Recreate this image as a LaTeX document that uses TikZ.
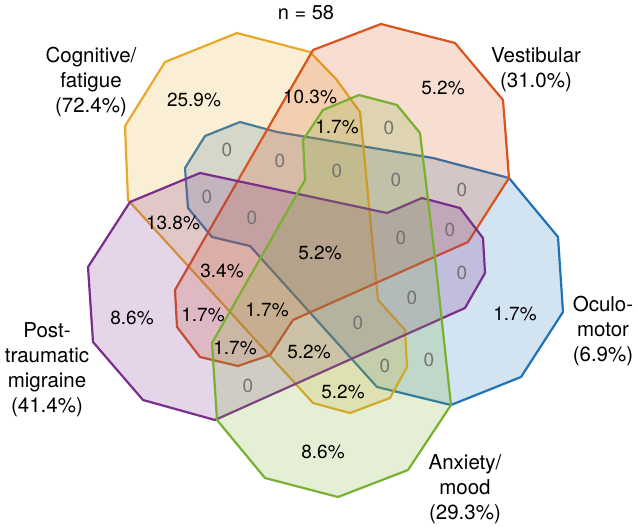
\documentclass[tikz,border=0pt]{standalone}
\usepackage{fontspec}
\setmainfont{TeX Gyre Heros}
\definecolor{cogyel}{HTML}{E8A92A}
\definecolor{vesorg}{HTML}{D9541E}
\definecolor{ocublu}{HTML}{1F72B8}
\definecolor{ptmpur}{HTML}{7B2D8E}
\definecolor{anxgrn}{HTML}{78B030}
\tikzset{
  setarea/.style={line width=2.2pt, line join=round, fill opacity=0.2, draw opacity=1},
  pct/.style={font=\fontsize{19}{21}\selectfont, inner sep=0pt},
  nil/.style={pct, text=black!55},
  setlab/.style={font=\fontsize{20.5}{25}\selectfont, align=center, inner sep=0pt},
}
\begin{document}
\begin{tikzpicture}[x=1pt, y=-1pt]
    \useasboundingbox (0,0) rectangle (638,527);
    % the five sets
    \draw[setarea, draw=ocublu, fill=ocublu] (240,122) -- (277,132) -- (433,158) -- (509,178)
      -- (558,237) -- (563,312) -- (521,377) -- (451,405) -- (377,387) -- (250,246)
      -- (212,237) -- (188,208) -- (185,168) -- (205,136) -- cycle;
    \draw[setarea, draw=cogyel, fill=cogyel] (165,62) -- (237,33) -- (310,52) -- (336,79)
      -- (360,112) -- (378,300) -- (405,330) -- (407,367) -- (390,398) -- (350,413)
      -- (313,403) -- (128,200) -- (125,126) -- cycle;
    \draw[setarea, draw=vesorg, fill=vesorg] (313,50) -- (381,24) -- (455,43) -- (503,100)
      -- (509,178) -- (468,242) -- (293,320) -- (270,355) -- (238,366) -- (200,357)
      -- (177,327) -- (175,290) -- cycle;
    \draw[setarea, draw=ptmpur, fill=ptmpur] (130,202) -- (200,173) -- (387,213) -- (422,198)
      -- (460,208) -- (483,238) -- (485,273) -- (465,308) -- (215,420) -- (143,400)
      -- (93,342) -- (88,267) -- cycle;
    \draw[setarea, draw=anxgrn, fill=anxgrn] (323,110) -- (359,95) -- (397,105) -- (420,133)
      -- (436,267) -- (451,405) -- (408,470) -- (338,497) -- (265,478) -- (217,420)
      -- (212,343) -- (305,180) -- (303,140) -- cycle;
    % titles
    \node[setlab, font=\fontsize{20}{25}\selectfont] (total) at (306,13) {n = 58};
    \node[setlab] (cogLab) at (91,82) {Cognitive/\\fatigue\\(72.4\%)};
    \node[setlab] (vesLab) at (536,70) {Vestibular\\(31.0\%)};
    \node[setlab] (ocuLab) at (603,331) {Oculo-\\motor\\(6.9\%)};
    \node[setlab] (ptmLab) at (47,370) {Post-\\traumatic\\migraine\\(41.4\%)};
    \node[setlab] (anxLab) at (465,489) {Anxiety/\\mood\\(29.3\%)};
    % region shares
    \node[pct] (cOnly) at (194,100) {25.9\%};
    \node[pct] (cv) at (310,97) {10.3\%};
    \node[pct] (vOnly) at (443,88) {5.2\%};
    \node[pct] (cva) at (337,127) {1.7\%};
    \node[pct] (all) at (320,253) {5.2\%};
    \node[pct] (cp) at (173,223) {13.8\%};
    \node[pct] (cvp) at (222,271) {3.4\%};
    \node[pct] (vp) at (203,315) {1.7\%};
    \node[pct] (cvpa) at (267,310) {1.7\%};
    \node[pct] (vpa) at (235,348) {1.7\%};
    \node[pct] (cpa) at (309,352) {5.2\%};
    \node[pct] (ca) at (343,392) {5.2\%};
    \node[pct] (pOnly) at (132,318) {8.6\%};
    \node[pct] (aOnly) at (323,452) {8.6\%};
    \node[pct] (oOnly) at (515,314) {1.7\%};
    % empty regions
    \node[nil] (z1) at (389,128) {0};
    \node[nil] (z2) at (227,150) {0};
    \node[nil] (z3) at (280,161) {0};
    \node[nil] (z4) at (337,171) {0};
    \node[nil] (z5) at (396,180) {0};
    \node[nil] (z6) at (462,190) {0};
    \node[nil] (z7) at (207,197) {0};
    \node[nil] (z8) at (252,218) {0};
    \node[nil] (z9) at (401,238) {0};
    \node[nil] (z10) at (450,230) {0};
    \node[nil] (z11) at (462,273) {0};
    \node[nil] (z12) at (412,298) {0};
    \node[nil] (z13) at (358,323) {0};
    \node[nil] (z14) at (385,366) {0};
    \node[nil] (z15) at (429,360) {0};
    \node[nil] (z16) at (248,386) {0};
  \end{tikzpicture}
\end{document}
